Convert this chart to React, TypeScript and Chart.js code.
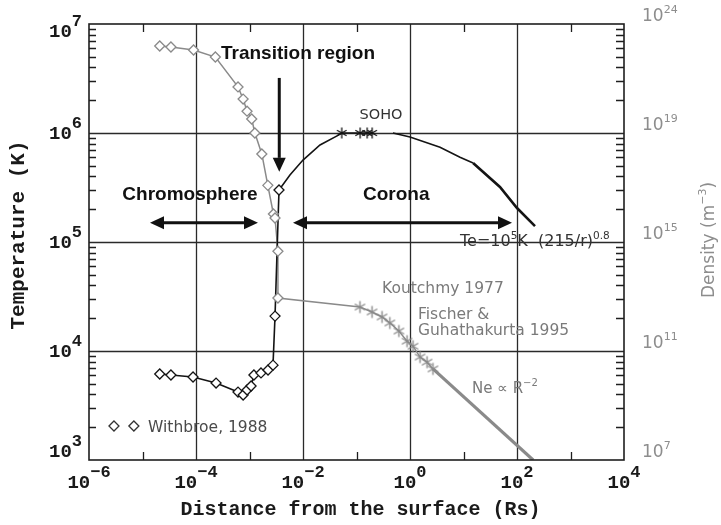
import React, { useEffect, useRef } from 'react';
import { Chart, registerables, LogarithmicScale } from 'chart.js';

// ---------------- data ----------------
// Axis ranges
const X_MIN = 1e-6;
const X_MAX = 1e4;
const T_MIN = 1e3;
const T_MAX = 1e7;
const N_MIN = 1e7;
const N_MAX = 1e24;

// Tick / grid definitions
const X_LABEL_EXP = [-6, -4, -2, 0, 2, 4];
const X_GRID = [1e-4, 1e-2, 1, 1e2];
const X_MINOR_TICKS = [1e-5, 1e-3, 1e-1, 1e1, 1e3];
const T_LABEL_EXP = [3, 4, 5, 6, 7];
const T_GRID = [1e4, 1e5, 1e6];
const DENSITY_LABEL_EXP = [7, 11, 15, 19, 24];

// Temperature (K) — Withbroe 1988 model (diamonds)
const TEMP_DIAMOND_X = [2.1e-5, 3.4e-5, 8.8e-5, 2.37e-4, 6.1e-4, 7.6e-4, 9.0e-4, 1.07e-3, 1.21e-3, 1.64e-3, 2.22e-3, 2.75e-3, 3.0e-3, 3.56e-3];
const TEMP_DIAMOND_K = [6150, 6020, 5770, 5080, 4200, 3950, 4390, 4770, 6020, 6290, 6700, 7420, 20900, 300000];
// Temperature rise into the corona (line only)
const TEMP_RISE_X = [5.7e-3, 1.0e-2, 0.0208, 0.0433];
const TEMP_RISE_K = [412000, 565000, 776000, 940000];
// SOHO temperature measurements (asterisks)
const SOHO_X = [0.053, 0.117, 0.158, 0.196];
const SOHO_K = [1.0e6, 1.0e6, 1.0e6, 1.0e6];
// Te = 1e5 K (215/r)^0.8 model
const TEMP_MODEL_X = [0.48, 1.0, 3.64, 8.6, 15.1, 48, 100, 217];
const TEMP_MODEL_K = [1.0e6, 9.2e5, 7.4e5, 6.0e5, 5.3e5, 3.2e5, 2.05e5, 1.4e5];

// Density (m^-3) — Withbroe 1988 (diamonds)
const DENS_DIAMOND_X = [2.1e-5, 3.4e-5, 9.0e-5, 2.3e-4, 6.1e-4, 7.6e-4, 9.0e-4, 1.1e-3, 1.26e-3, 1.7e-3, 2.2e-3, 2.8e-3, 3.0e-3, 3.4e-3, 3.4e-3];
const DENS_DIAMOND_M3 = [9.8e22, 8.8e22, 6.4e22, 3.05e22, 1.3e21, 3.6e20, 1.0e20, 4.4e19, 1.0e19, 1.7e18, 1.2e17, 1.07e16, 7.6e15, 4.6e14, 8.8e12];
// Density — Koutchmy 1977 / Fischer & Guhathakurta 1995 (asterisks)
const DENS_STAR_X = [0.116, 0.195, 0.30, 0.42, 0.62, 0.88, 1.14, 1.54, 2.08, 2.69];
const DENS_STAR_M3 = [4.1e12, 2.7e12, 1.77e12, 1.07e12, 5.4e11, 2.3e11, 1.5e11, 6.0e10, 3.9e10, 2.2e10];
// Density — Ne ∝ R^-2 extrapolation end
const DENS_POWER_X = [200];
const DENS_POWER_M3 = [1e7];

// ---------------- styles ----------------
const BLACK = '#141414';
const GRAY = '#8a8a8a';
const MONO = '"Liberation Mono", "DejaVu Sans Mono", monospace';
const SANS = '"DejaVu Sans", sans-serif';
const BOLD_SANS = '"Liberation Sans", Arial, sans-serif';

// Density axis: log axis whose labelled decades are evenly spaced (as in the figure)
class DensityScale extends LogarithmicScale {
  static id = 'densitylog';
  static defaults = LogarithmicScale.defaults;
  getPixelForValue(value: any) {
    if (value === null || value === undefined || !(value > 0)) return NaN;
    const e = Math.log10(value);
    const a = DENSITY_LABEL_EXP;
    const n = a.length - 1;
    let i = 0;
    while (i < n - 1 && e > a[i + 1]) i++;
    return this.getPixelForDecimal((i + (e - a[i]) / (a[i + 1] - a[i])) / n);
  }
  getValueForPixel(pixel: number) {
    const a = DENSITY_LABEL_EXP;
    const n = a.length - 1;
    const d = this.getDecimalForPixel(pixel) * n;
    const i = Math.max(0, Math.min(n - 1, Math.floor(d)));
    return Math.pow(10, a[i] + (d - i) * (a[i + 1] - a[i]));
  }
}

Chart.register(...registerables, DensityScale);

const zip = (xs: number[], ys: (number | null)[]) => xs.map((x, i) => ({ x, y: ys[i] }));

type Piece = { t: string; sup?: boolean };
function drawRich(
  ctx: CanvasRenderingContext2D,
  pieces: Piece[],
  x: number,
  y: number,
  align: 'left' | 'center' | 'right',
  font: string,
  supFont: string,
  rise: number,
) {
  ctx.textAlign = 'left';
  ctx.textBaseline = 'alphabetic';
  let w = 0;
  const widths = pieces.map((p) => {
    ctx.font = p.sup ? supFont : font;
    const m = ctx.measureText(p.t).width;
    w += m;
    return m;
  });
  let cx = align === 'left' ? x : align === 'center' ? x - w / 2 : x - w;
  pieces.forEach((p, i) => {
    ctx.font = p.sup ? supFont : font;
    ctx.fillText(p.t, cx, p.sup ? y - rise : y);
    cx += widths[i];
  });
}

function diamond(ctx: CanvasRenderingContext2D, x: number, y: number, r: number) {
  ctx.beginPath();
  ctx.moveTo(x - r, y);
  ctx.lineTo(x, y - r);
  ctx.lineTo(x + r, y);
  ctx.lineTo(x, y + r);
  ctx.closePath();
}

function arrow(ctx: CanvasRenderingContext2D, x1: number, y1: number, x2: number, y2: number, both: boolean) {
  const L = 14;
  const H = 6.5;
  const dx = x2 - x1;
  const dy = y2 - y1;
  const len = Math.hypot(dx, dy);
  const ux = dx / len;
  const uy = dy / len;
  const nx = -uy;
  const ny = ux;
  ctx.lineWidth = 3;
  ctx.beginPath();
  ctx.moveTo(x1 + (both ? ux * L : 0), y1 + (both ? uy * L : 0));
  ctx.lineTo(x2 - ux * L, y2 - uy * L);
  ctx.stroke();
  const head = (tx: number, ty: number, ddx: number, ddy: number) => {
    ctx.beginPath();
    ctx.moveTo(tx, ty);
    ctx.lineTo(tx - ddx * L + nx * H, ty - ddy * L + ny * H);
    ctx.lineTo(tx - ddx * L - nx * H, ty - ddy * L - ny * H);
    ctx.closePath();
    ctx.fill();
  };
  head(x2, y2, ux, uy);
  if (both) head(x1, y1, -ux, -uy);
}

function makeAsterisk(color: string, r: number, lw: number) {
  const s = Math.ceil(2 * r + 2 * lw + 2);
  const c = document.createElement('canvas');
  c.width = s;
  c.height = s;
  const g = c.getContext('2d')!;
  g.strokeStyle = color;
  g.lineWidth = lw;
  const m = s / 2;
  g.beginPath();
  for (let k = 0; k < 3; k++) {
    const ang = Math.PI / 2 + (k * Math.PI) / 3;
    g.moveTo(m - r * Math.cos(ang), m - r * Math.sin(ang));
    g.lineTo(m + r * Math.cos(ang), m + r * Math.sin(ang));
  }
  g.stroke();
  return c;
}

const decorPlugin = {
  id: 'decor',
  beforeDatasetsDraw(chart: any) {
    const { ctx, chartArea: a, scales } = chart;
    ctx.save();
    ctx.strokeStyle = '#2a2a2a';
    ctx.lineWidth = 1.3;
    ctx.beginPath();
    X_GRID.forEach((v) => {
      const px = Math.round(scales.x.getPixelForValue(v)) + 0.5;
      ctx.moveTo(px, a.top);
      ctx.lineTo(px, a.bottom);
    });
    T_GRID.forEach((v) => {
      const py = Math.round(scales.y.getPixelForValue(v)) + 0.5;
      ctx.moveTo(a.left, py);
      ctx.lineTo(a.right, py);
    });
    ctx.stroke();
    ctx.restore();
  },
  afterDatasetsDraw(chart: any) {
    const { ctx, chartArea: a, scales } = chart;
    const X = (v: number) => scales.x.getPixelForValue(v);
    const Y = (v: number) => scales.y.getPixelForValue(v);
    const YN = (v: number) => scales.y2.getPixelForValue(v);
    ctx.save();

    // frame
    ctx.strokeStyle = '#1e1e1e';
    ctx.lineWidth = 1.6;
    ctx.strokeRect(a.left, a.top, a.right - a.left, a.bottom - a.top);

    // inside ticks
    ctx.lineWidth = 1.3;
    ctx.beginPath();
    X_MINOR_TICKS.forEach((v) => {
      const px = Math.round(X(v)) + 0.5;
      ctx.moveTo(px, a.bottom);
      ctx.lineTo(px, a.bottom - 8);
      ctx.moveTo(px, a.top);
      ctx.lineTo(px, a.top + 8);
    });
    for (let e = 3; e < 7; e++) {
      for (let k = 2; k <= 9; k++) {
        const py = Math.round(Y(k * Math.pow(10, e))) + 0.5;
        ctx.moveTo(a.left, py);
        ctx.lineTo(a.left + 7, py);
        ctx.moveTo(a.right, py);
        ctx.lineTo(a.right - 8, py);
      }
    }
    ctx.stroke();

    // x tick labels
    ctx.fillStyle = '#1a1a1a';
    X_LABEL_EXP.forEach((e) => {
      const sup = e < 0 ? '\u2212' + Math.abs(e) : String(e);
      drawRich(ctx, [{ t: '10' }, { t: sup, sup: true }], X(Math.pow(10, e)), a.bottom + 28, 'center',
        `bold 19px ${MONO}`, `bold 17px ${MONO}`, 11);
    });
    // left (temperature) tick labels
    T_LABEL_EXP.forEach((e) => {
      const py = Y(Math.pow(10, e));
      const base = Math.min(Math.max(py + 6, a.top + 13), a.bottom - 3);
      drawRich(ctx, [{ t: '10' }, { t: String(e), sup: true }], a.left - 7, base, 'right',
        `bold 19px ${MONO}`, `bold 17px ${MONO}`, 11);
    });
    // right (density) tick labels
    ctx.fillStyle = '#8d8d8d';
    DENSITY_LABEL_EXP.forEach((e) => {
      const py = YN(Math.pow(10, e));
      drawRich(ctx, [{ t: '10' }, { t: String(e), sup: true }], a.right + 18, py - 3, 'left',
        `17px ${SANS}`, `11px ${SANS}`, 8);
    });

    // axis titles
    ctx.fillStyle = '#1a1a1a';
    drawRich(ctx, [{ t: 'Distance from the surface (Rs)' }], (a.left + a.right) / 2 + 4, a.bottom + 55, 'center',
      `bold 20px ${MONO}`, `bold 20px ${MONO}`, 0);
    ctx.save();
    ctx.translate(17, 235);
    ctx.rotate(-Math.PI / 2);
    drawRich(ctx, [{ t: 'Temperature (K)' }], 0, 7, 'center', `bold 21px ${MONO}`, `bold 21px ${MONO}`, 0);
    ctx.restore();
    ctx.save();
    ctx.fillStyle = '#8d8d8d';
    ctx.translate(708, 240);
    ctx.rotate(-Math.PI / 2);
    drawRich(ctx, [{ t: 'Density (m' }, { t: '\u22123', sup: true }, { t: ')' }], 0, 6, 'center',
      `17px ${SANS}`, `11px ${SANS}`, 8);
    ctx.restore();

    // arrows
    ctx.fillStyle = '#111';
    ctx.strokeStyle = '#111';
    arrow(ctx, X(3.6e-3), Y(3.2e6), X(3.6e-3), Y(4.4e5), false);
    arrow(ctx, X(1.38e-5), Y(1.5e5), X(1.44e-3), Y(1.5e5), true);
    arrow(ctx, X(6.5e-3), Y(1.5e5), X(80.7), Y(1.5e5), true);

    // bold region labels
    ctx.fillStyle = '#111';
    const bold = `bold 19px ${BOLD_SANS}`;
    drawRich(ctx, [{ t: 'Transition region' }], X(8.07e-3), Y(5.5e6) + 7, 'center', bold, bold, 0);
    drawRich(ctx, [{ t: 'Chromosphere' }], X(7.7e-5), Y(2.8e5) + 7, 'center', bold, bold, 0);
    drawRich(ctx, [{ t: 'Corona' }], X(0.132), Y(2.8e5) + 7, 'left', bold, bold, 0);

    // dark annotations
    ctx.fillStyle = '#333';
    drawRich(ctx, [{ t: 'SOHO' }], X(0.287), Y(1.49e6) + 5, 'center', `14.5px ${SANS}`, `14.5px ${SANS}`, 0);
    drawRich(ctx, [{ t: 'Te=10' }, { t: '5', sup: true }, { t: 'K  (215/r)' }, { t: '0.8', sup: true }],
      X(8.6), Y(1.04e5) + 5.5, 'left', `16px ${SANS}`, `10.5px ${SANS}`, 7);

    // gray annotations
    ctx.fillStyle = '#7a7a7a';
    const g = `15.5px ${SANS}`;
    drawRich(ctx, [{ t: 'Koutchmy 1977' }], X(0.30), Y(3.8e4) + 5.5, 'left', g, g, 0);
    drawRich(ctx, [{ t: 'Fischer &' }], X(1.41), Y(2.23e4) + 5.5, 'left', g, g, 0);
    drawRich(ctx, [{ t: 'Guhathakurta 1995' }], X(1.41), Y(1.56e4) + 5.5, 'left', g, g, 0);
    drawRich(ctx, [{ t: 'Ne \u221D R' }, { t: '\u22122', sup: true }], X(14.4), Y(4.6e3) + 5.5, 'left', `15px ${SANS}`, `10px ${SANS}`, 7);

    // legend for Withbroe diamonds
    ctx.strokeStyle = '#333';
    ctx.fillStyle = '#fff';
    ctx.lineWidth = 1.3;
    [2.93e-6, 6.9e-6].forEach((v) => {
      diamond(ctx, X(v), Y(2.05e3), 5);
      ctx.fill();
      ctx.stroke();
    });
    ctx.fillStyle = '#4a4a4a';
    drawRich(ctx, [{ t: 'Withbroe, 1988' }], X(1.27e-5), Y(2.05e3) + 5.5, 'left', g, g, 0);

    ctx.restore();
  },
};

export default function App() {
  const ref = useRef<HTMLCanvasElement | null>(null);
  useEffect(() => {
    if (!ref.current) return;
    const blackStar = makeAsterisk(BLACK, 5.5, 1.3);
    const grayStar = makeAsterisk(GRAY, 6, 1.4);

    const tempLine = [
      ...zip(TEMP_DIAMOND_X, TEMP_DIAMOND_K),
      ...zip(TEMP_RISE_X, TEMP_RISE_K),
      ...zip(SOHO_X, SOHO_K),
      { x: 0.3, y: null },
      ...zip(TEMP_MODEL_X, TEMP_MODEL_K),
    ];
    const thickTempFrom = tempLine.length - 4;
    const densLine = [
      ...zip(DENS_DIAMOND_X, DENS_DIAMOND_M3),
      ...zip(DENS_STAR_X, DENS_STAR_M3),
      ...zip(DENS_POWER_X, DENS_POWER_M3),
    ];
    const thickDensFrom = DENS_DIAMOND_X.length + DENS_STAR_X.length - 1;

    const chart = new Chart(ref.current, {
      type: 'line',
      data: {
        datasets: [
          {
            label: 'Temperature (Withbroe 1988)',
            data: zip(TEMP_DIAMOND_X, TEMP_DIAMOND_K),
            yAxisID: 'y',
            showLine: false,
            pointStyle: 'rectRot',
            pointRadius: 5,
            pointBorderWidth: 1.3,
            borderColor: BLACK,
            backgroundColor: '#fff',
          },
          {
            label: 'Temperature (SOHO)',
            data: zip(SOHO_X, SOHO_K),
            yAxisID: 'y',
            showLine: false,
            pointStyle: blackStar,
            pointRadius: 5.5,
            borderColor: BLACK,
          },
          {
            label: 'Density (Withbroe 1988)',
            data: zip(DENS_DIAMOND_X, DENS_DIAMOND_M3),
            yAxisID: 'y2',
            showLine: false,
            pointStyle: 'rectRot',
            pointRadius: 5,
            pointBorderWidth: 1.3,
            borderColor: GRAY,
            backgroundColor: '#fff',
          },
          {
            label: 'Density (Koutchmy / Fischer & Guhathakurta)',
            data: zip(DENS_STAR_X, DENS_STAR_M3),
            yAxisID: 'y2',
            showLine: false,
            pointStyle: grayStar,
            pointRadius: 6,
            borderColor: GRAY,
          },
          {
            label: 'Temperature',
            data: tempLine,
            yAxisID: 'y',
            borderColor: BLACK,
            borderWidth: 1.6,
            pointRadius: 0,
            spanGaps: false,
            tension: 0,
            segment: { borderWidth: (c: any) => (c.p0DataIndex >= thickTempFrom ? 2.6 : 1.6) },
          },
          {
            label: 'Density',
            data: densLine,
            yAxisID: 'y2',
            borderColor: GRAY,
            borderWidth: 1.5,
            pointRadius: 0,
            segment: { borderWidth: (c: any) => (c.p0DataIndex >= thickDensFrom ? 3.2 : 1.5) },
          },
        ],
      },
      options: {
        animation: false,
        responsive: false,
        maintainAspectRatio: false,
        events: [],
        layout: { padding: { top: 24, left: 0, right: 0, bottom: 0 } },
        plugins: { legend: { display: false }, tooltip: { enabled: false } },
        scales: {
          x: {
            type: 'logarithmic',
            min: X_MIN,
            max: X_MAX,
            grid: { display: false },
            border: { display: false },
            ticks: { display: false },
            afterFit: (s: any) => { s.height = 65; },
          },
          y: {
            type: 'logarithmic',
            position: 'left',
            min: T_MIN,
            max: T_MAX,
            grid: { display: false },
            border: { display: false },
            ticks: { display: false },
            afterFit: (s: any) => { s.width = 89; },
          },
          y2: {
            type: 'densitylog',
            position: 'right',
            min: N_MIN,
            max: N_MAX,
            grid: { display: false },
            border: { display: false },
            ticks: { display: false },
            afterFit: (s: any) => { s.width = 97; },
          },
        } as any,
      },
      plugins: [decorPlugin],
    } as any);
    return () => chart.destroy();
  }, []);

  return (
    <div style={{ position: 'fixed', left: 0, top: 0, width: 721, height: 525, background: '#fff' }}>
      <canvas ref={ref} width={721} height={525} style={{ display: 'block', width: 721, height: 525 }} />
    </div>
  );
}
